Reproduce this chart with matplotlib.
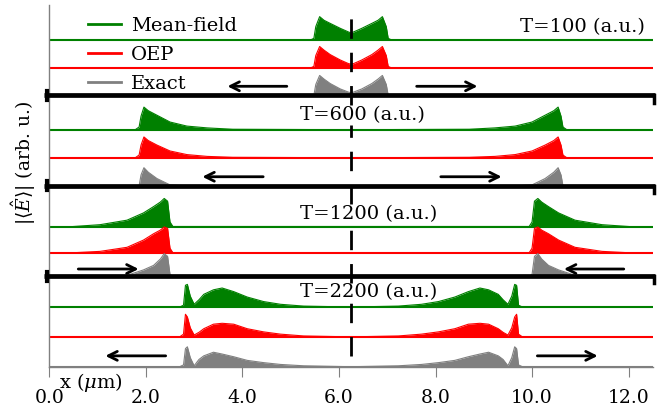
#!/usr/bin/env python3
"""Stacked field-envelope snapshots: mean-field vs OEP vs exact at four times."""
import matplotlib

matplotlib.use("Agg")
import matplotlib.pyplot as plt
import numpy as np
from matplotlib.lines import Line2D

plt.rcParams["font.family"] = ["DejaVu Serif"]
plt.rcParams["mathtext.fontset"] = "dejavuserif"

X_MAX = 12.5
CENTER = 6.25

# left half of each (symmetric) snapshot, heights in panel units
x_t100 = [5.40, 5.48, 5.52, 5.60, 5.69, 5.82, 6.03, 6.20, 6.25]
mf_t100 = [0.0, 0.02, 0.15, 0.26, 0.22, 0.185, 0.13, 0.09, 0.08]
oep_t100 = [0.0, 0.02, 0.14, 0.24, 0.20, 0.15, 0.09, 0.05, 0.045]
ex_t100 = [0.0, 0.0, 0.12, 0.22, 0.18, 0.13, 0.07, 0.035, 0.03]

x_t600 = [1.78, 1.86, 1.90, 1.96, 2.05, 2.23, 2.50, 2.85, 3.27, 3.80, 6.25]
mf_t600 = [0.0, 0.03, 0.15, 0.25, 0.21, 0.16, 0.085, 0.04, 0.02, 0.005, 0.0]
oep_t600 = [0.0, 0.03, 0.14, 0.23, 0.19, 0.14, 0.075, 0.035, 0.015, 0.005, 0.0]
ex_t600 = [0.0, 0.0, 0.12, 0.20, 0.15, 0.08, 0.01, 0.0, 0.0, 0.0, 0.0]

x_t1200 = [0.50, 1.05, 1.61, 1.95, 2.16, 2.30, 2.38, 2.45, 2.50, 2.56, 6.25]
mf_t1200 = [0.0, 0.02, 0.07, 0.15, 0.22, 0.27, 0.31, 0.28, 0.05, 0.0, 0.0]
oep_t1200 = [0.0, 0.015, 0.06, 0.14, 0.21, 0.25, 0.285, 0.27, 0.05, 0.0, 0.0]
ex_t1200 = [0.0, 0.0, 0.01, 0.07, 0.12, 0.19, 0.25, 0.22, 0.02, 0.0, 0.0]

x_t2200 = [2.70, 2.78, 2.82, 2.86, 2.92, 3.00, 3.10, 3.20, 3.40, 3.58, 3.82, 4.10, 4.44, 4.79, 5.27, 6.25]
mf_t2200 = [0.0, 0.02, 0.24, 0.25, 0.12, 0.03, 0.08, 0.14, 0.19, 0.21, 0.17, 0.11, 0.06, 0.03, 0.01, 0.0]
oep_t2200 = [0.0, 0.03, 0.25, 0.22, 0.10, 0.02, 0.05, 0.09, 0.14, 0.15, 0.14, 0.09, 0.055, 0.03, 0.01, 0.0]
ex_t2200 = [0.0, 0.02, 0.20, 0.22, 0.10, 0.01, 0.08, 0.12, 0.16, 0.14, 0.11, 0.07, 0.045, 0.025, 0.01, 0.0]

time_labels = ["T=2200 (a.u.)", "T=1200 (a.u.)", "T=600 (a.u.)", "T=100 (a.u.)"]
x_ticks = [0.0, 2.0, 4.0, 6.0, 8.0, 10.0, 12.0]

# (panel index from bottom, x, mf, oep, exact, baseline offsets mf/oep)
panels = [
    (0, x_t2200, mf_t2200, oep_t2200, ex_t2200, 0.66, 0.33),
    (1, x_t1200, mf_t1200, oep_t1200, ex_t1200, 0.55, 0.26),
    (2, x_t600, mf_t600, oep_t600, ex_t600, 0.62, 0.31),
    (3, x_t100, mf_t100, oep_t100, ex_t100, 0.61, 0.30),
]

# arrows per panel: (x_start, x_end, y)
arrows = [
    (2.41, 1.16, 0.12), (10.11, 11.36, 0.12),
    (0.60, 1.85, 1.08), (11.90, 10.66, 1.08),
    (4.43, 3.17, 2.10), (8.11, 9.37, 2.10),
    (4.92, 3.69, 3.10), (7.61, 8.87, 3.10),
]

label_pos = [(5.20, 0.82, "left"), (5.20, 1.69, "left"), (5.20, 2.78, "left"), (12.34, 3.75, "right")]

# dashed centre line, broken where it would cross the time labels
dash_spans = [(0.12, 0.71), (0.93, 1.58), (1.80, 2.67), (2.89, 3.92)]

C_MF, C_OEP, C_EX = "green", "red", "gray"


def mirror(x, y):
    x = np.asarray(x)
    y = np.asarray(y)
    return np.concatenate([x, X_MAX - x[::-1]]), np.concatenate([y, y[::-1]])


fig = plt.figure(figsize=(6.62, 4.07), dpi=100)
ax = fig.add_axes([0.0745, 0.099, 0.9115, 0.889])
ax.set_xlim(0, X_MAX)
ax.set_ylim(0, 4)

for idx, xs, mf, oep, ex, off_mf, off_oep in panels:
    for vals, off, col in ((mf, off_mf, C_MF), (oep, off_oep, C_OEP), (ex, 0.0, C_EX)):
        xf, yf = mirror(xs, vals)
        base = idx + off
        ax.plot([0, X_MAX], [base, base], color=col, lw=1.5, zorder=2)
        ax.fill_between(xf, base, base + yf, color=col, lw=0, zorder=2)
        ax.plot(xf, base + yf, color=col, lw=0.8, zorder=2)

# panel separators
for yy in (1, 2, 3):
    ax.plot([-0.1, 12.55], [yy, yy], color="black", lw=3.4, solid_capstyle="butt",
            clip_on=False, zorder=5)
    ax.plot([-0.05, -0.05], [yy - 0.05, yy + 0.05], color="black", lw=3, clip_on=False, zorder=5)
    ax.plot([12.52, 12.52], [yy - 0.08, yy], color="black", lw=2.5, clip_on=False, zorder=5)

for y0, y1 in dash_spans:
    ax.plot([CENTER, CENTER], [y0, y1], color="black", lw=2, dashes=(7, 5), zorder=3)

for x0, x1, yy in arrows:
    ax.annotate("", xy=(x1, yy), xytext=(x0, yy),
                arrowprops=dict(arrowstyle="->", color="black", lw=2, mutation_scale=16,
                                shrinkA=0, shrinkB=0), zorder=4)

for (tx, ty, ha), lab in zip(label_pos, time_labels):
    ax.text(tx, ty, lab, ha=ha, va="center", fontsize=14, zorder=3.5)

handles = [Line2D([], [], color=C_MF, lw=2), Line2D([], [], color=C_OEP, lw=2),
           Line2D([], [], color=C_EX, lw=2)]
leg = ax.legend(handles, ["Mean-field", "OEP", "Exact"], loc="upper left",
                bbox_to_anchor=(0.045, 1.0), frameon=False, fontsize=14,
                handlelength=1.7, handletextpad=0.5, labelspacing=0.58, borderaxespad=0.2)
leg.set_zorder(3)

for s in ("top", "right"):
    ax.spines[s].set_visible(False)
for s in ("left", "bottom"):
    ax.spines[s].set_color("gray")
    ax.spines[s].set_linewidth(1)

ax.set_yticks([])
ax.set_xticks(x_ticks)
ax.set_xticklabels([f"{t:.1f}" for t in x_ticks])
ax.tick_params(axis="x", direction="out", length=7, color="gray", labelsize=13.5, pad=9)

ax.text(0.2, -0.17, r"x ($\mu$m)", fontsize=14, va="center", ha="left")
fig.text(0.035, 0.60, r"$|\langle\hat{E}\rangle|$ (arb. u.)", rotation=90,
         fontsize=13.5, ha="center", va="center")

fig.savefig("out.png", dpi=100)
